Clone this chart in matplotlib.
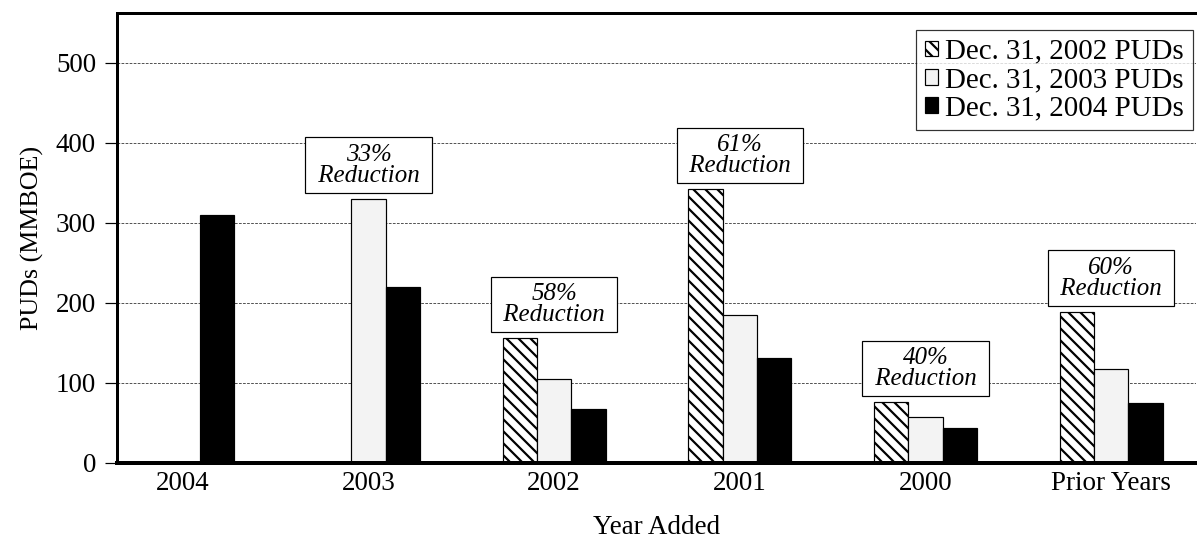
import numpy as np
import matplotlib
matplotlib.use("Agg")
import matplotlib.pyplot as plt

plt.rcParams['font.family'] = ['Liberation Serif', 'DejaVu Serif']
plt.rcParams['hatch.linewidth'] = 2.2

# data
years = ['2004', '2003', '2002', '2001', '2000', 'Prior Years']
puds_2002 = [np.nan, np.nan, 156, 342, 76, 189]
puds_2003 = [np.nan, 330, 105, 185, 57, 117]
puds_2004 = [310, 220, 67, 131, 44, 75]
reduction_labels = [None, '33%', '58%', '61%', '40%', '60%']

series = [
    ('Dec. 31, 2002 PUDs', puds_2002, dict(facecolor='white', hatch='\\\\')),
    ('Dec. 31, 2003 PUDs', puds_2003, dict(facecolor='#f3f3f3')),
    ('Dec. 31, 2004 PUDs', puds_2004, dict(facecolor='black')),
]

fig = plt.figure(figsize=(1197 / 72, 540 / 72), dpi=72)
ax = fig.add_axes([117 / 1197, 77 / 540, 1079 / 1197, 450 / 540])

x = np.arange(len(years))
w = 0.185
for i, (name, vals, style) in enumerate(series):
    ax.bar(x + (i - 1) * w, vals, w, edgecolor='black', linewidth=1.2,
           label=name, **style)

# reduction boxes sit just above the tallest bar of each group
tops = np.nanmax(np.array([puds_2002, puds_2003, puds_2004], dtype=float), axis=0)
for xi, top, lab in zip(x, tops, reduction_labels):
    if lab is None:
        continue
    ax.annotate(f'{lab}\n Reduction ', (xi, top), xytext=(0, 12),
                textcoords='offset points', ha='center', va='bottom',
                fontsize=25, style='italic', linespacing=0.95,
                bbox=dict(boxstyle='square,pad=0.25', facecolor='white',
                          edgecolor='black', linewidth=1.2))

ax.set_xlim(-0.355, 5.457)
ax.set_ylim(0, 562)
ax.set_yticks(range(0, 501, 100))
ax.set_xticks(x)
ax.set_xticklabels(years)
ax.tick_params(axis='x', length=0, labelsize=27, pad=8)
ax.tick_params(axis='y', length=12, width=1.2, labelsize=27, pad=9)

ax.set_axisbelow(True)
ax.yaxis.grid(True, linestyle=(0, (3, 1.5)), color='#444444', linewidth=0.9)

ax.spines['right'].set_visible(False)
ax.spines['left'].set_linewidth(3)
ax.spines['top'].set_linewidth(3)
ax.spines['bottom'].set_linewidth(4)

ax.set_ylabel('PUDs (MMBOE)', fontsize=26, labelpad=12)
ax.set_xlabel('Year Added', fontsize=27, labelpad=19)

leg = ax.legend(loc='upper right', bbox_to_anchor=(0.997, 0.962), fontsize=29,
                frameon=True, fancybox=False, edgecolor='black',
                handlelength=0.45, handleheight=0.45, handletextpad=0.25,
                borderpad=0.3, labelspacing=0.08, borderaxespad=0)
leg.get_frame().set_linewidth(1.2)

fig.savefig('out.png', dpi=72)
